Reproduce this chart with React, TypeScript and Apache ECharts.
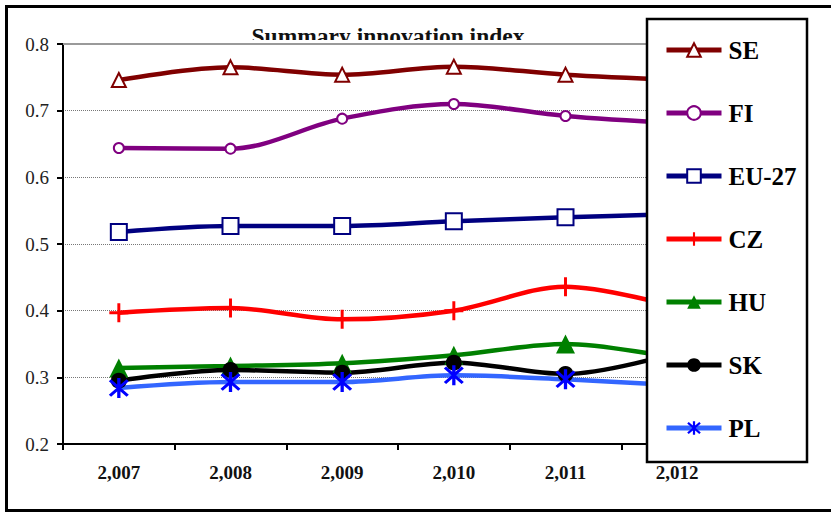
import React, { useEffect, useRef } from "react";
import * as echarts from "echarts";

const categories = ["2,007", "2,008", "2,009", "2,010", "2,011", "2,012"];
const seValues = [0.746, 0.765, 0.754, 0.766, 0.754, 0.746];
const fiValues = [0.644, 0.643, 0.688, 0.71, 0.692, 0.681];
const euValues = [0.518, 0.527, 0.527, 0.534, 0.54, 0.545];
const czValues = [0.397, 0.404, 0.387, 0.4, 0.436, 0.405];
const huValues = [0.314, 0.317, 0.321, 0.333, 0.35, 0.328];
const skValues = [0.295, 0.311, 0.307, 0.322, 0.305, 0.337];
const plValues = [0.284, 0.293, 0.293, 0.303, 0.297, 0.288];
const titleText = "Summary innovation index";

const SERIF = "Liberation Serif";

const PLUS =
  "path://M-1.4,-9L1.4,-9L1.4,-1.4L9,-1.4L9,1.4L1.4,1.4L1.4,9L-1.4,9L-1.4,1.4L-9,1.4L-9,-1.4L-1.4,-1.4Z";
const STAR =
  "path://M-1.3,-9L1.3,-9L1.3,9L-1.3,9Z M-7.9,-6.1L-6.1,-7.9L7.9,6.1L6.1,7.9Z M6.1,-7.9L7.9,-6.1L-6.1,7.9L-7.9,6.1Z";

export default function App() {
  const ref = useRef<HTMLDivElement>(null);
  useEffect(() => {
    document.body.style.margin = "0";
    const chart = echarts.init(ref.current!, null, { renderer: "svg" });
    const mk = (
      name: string,
      data: number[],
      lineColor: string,
      markColor: string,
      symbol: string,
      size: number,
      border: number
    ) => ({
      name,
      type: "line",
      data,
      smooth: 0.33,
      symbol,
      symbolSize: size,
      showSymbol: true,
      lineStyle: { color: lineColor, width: 4.5 },
      itemStyle: {
        color: markColor,
        borderColor: markColor,
        borderWidth: border,
      },
      z: 2,
    });
    chart.setOption({
      animation: false,
      backgroundColor: "#fff",
      grid: { left: 63, top: 44, right: 98, bottom: 68, containLabel: false },
      xAxis: {
        type: "category",
        data: categories,
        boundaryGap: true,
        axisLine: { lineStyle: { color: "#000", width: 2 } },
        axisTick: {
          show: true,
          inside: false,
          length: 6,
          lineStyle: { color: "#000", width: 2 },
        },
        axisLabel: {
          fontFamily: SERIF,
          fontWeight: "bold",
          fontSize: 19,
          color: "#111",
          margin: 19,
        },
        splitLine: { show: false },
      },
      yAxis: {
        type: "value",
        min: 0.2,
        max: 0.8,
        interval: 0.1,
        axisLine: { show: true, lineStyle: { color: "#000", width: 2 } },
        axisTick: {
          show: true,
          inside: false,
          length: 6,
          lineStyle: { color: "#000", width: 2 },
        },
        axisLabel: {
          fontFamily: SERIF,
          fontSize: 19,
          color: "#222",
          margin: 14,
          formatter: (v: number) => v.toFixed(1),
        },
        splitLine: {
          show: true,
          lineStyle: { color: "#777", width: 1, type: [1, 1] },
        },
      },
      legend: {
        orient: "vertical",
        left: 664,
        top: 37.5,
        padding: 0,
        itemWidth: 55,
        itemHeight: 17,
        itemGap: 38,
        lineStyle: { width: 5 },
        textStyle: {
          fontFamily: SERIF,
          fontWeight: "bold",
          fontSize: 25,
          color: "#000",
          padding: [0, 0, 0, 2],
        },
        data: ["SE", "FI", "EU-27", "CZ", "HU", "SK", "PL"],
        z: 5,
      },
      graphic: [
        {
          type: "rect",
          z: 0,
          silent: true,
          shape: { x: 6.5, y: 6.5, width: 830, height: 504 },
          style: { fill: "none", stroke: "#000", lineWidth: 3 },
        },
        {
          type: "text",
          z: 0,
          x: 388,
          y: 36,
          style: {
            text: titleText,
            fontFamily: SERIF,
            fontWeight: "bold",
            fontSize: 23.5,
            fill: "#111",
            textAlign: "center",
            textVerticalAlign: "middle",
          },
        },
        {
          type: "rect",
          z: 1,
          silent: true,
          shape: { x: 64, y: 40, width: 583, height: 14 },
          style: { fill: "#fff", stroke: "none" },
        },
        {
          type: "line",
          z: 1,
          silent: true,
          shape: { x1: 63, y1: 44, x2: 733, y2: 44 },
          style: { stroke: "#9a9a9a", lineWidth: 2 },
        },
        {
          type: "rect",
          z: 4,
          silent: true,
          shape: { x: 647, y: 19, width: 160, height: 443 },
          style: { fill: "#fff", stroke: "#000", lineWidth: 2.5 },
        },
      ],
      series: [
        mk("SE", seValues, "#800000", "#800000", "emptyTriangle", 14, 2),
        mk("FI", fiValues, "#800080", "#800080", "emptyCircle", 10, 2),
        mk("EU-27", euValues, "#000080", "#000080", "emptyRect", 16, 2.5),
        mk("CZ", czValues, "#ff0000", "#ff0000", PLUS, 19, 0),
        mk("HU", huValues, "#008000", "#008000", "triangle", 19, 0),
        mk("SK", skValues, "#000000", "#000000", "circle", 16, 0),
        mk("PL", plValues, "#3366ff", "#0000ff", STAR, 20, 0),
      ],
    });
    return () => chart.dispose();
  }, []);
  return <div ref={ref} style={{ width: 831, height: 512 }} />;
}
